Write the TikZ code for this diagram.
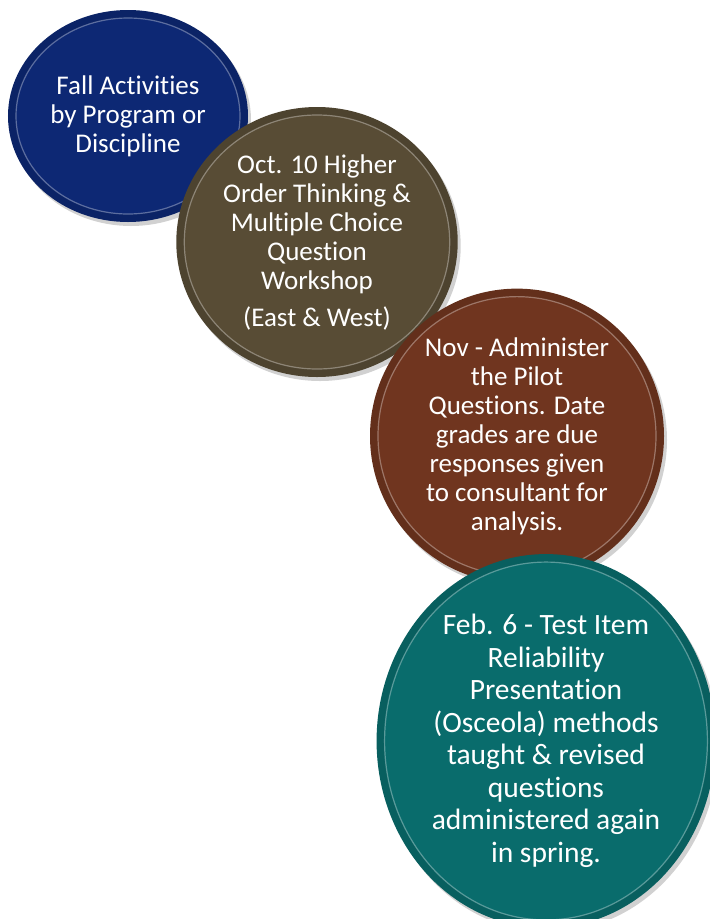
\documentclass[tikz,border=0pt]{standalone}
\usepackage{fontspec}
\setmainfont{Carlito}[Ligatures=NoCommon]
\usetikzlibrary{shapes.geometric}

\definecolor{fallblue}{RGB}{13,40,116}
\definecolor{octolive}{RGB}{88,76,53}
\definecolor{novrust}{RGB}{112,53,31}
\definecolor{febteal}{RGB}{9,108,108}

\tikzset{
  % glossy button: dark outer band, light rim, soft shadow
  button/.style={ellipse, inner sep=0pt, align=center, text=white,
    fill=#1, draw=#1!45!white, draw opacity=.6, line width=1.2pt,
    preaction={draw=black, draw opacity=.18, line width=16pt,
      transform canvas={xshift=3pt, yshift=-4pt}},
    preaction={draw=#1!88!black, draw opacity=1, line width=16pt}},
  small text/.style={font=\fontsize{27}{29}\selectfont},
  large text/.style={font=\fontsize{29.5}{32.5}\selectfont}
}

\begin{document}
\begin{tikzpicture}[x=1pt, y=-1pt]
  \useasboundingbox (0,0) rectangle (710,919);

  \node[button=fallblue, small text, minimum width=224pt, minimum height=196pt]
    (fall) at (128,116) {Fall Activities\\by Program or\\Discipline};

  \node[button=octolive, small text, minimum width=254pt, minimum height=254pt]
    (oct) at (317,242) {Oct. 10 Higher\\Order Thinking \&\\Multiple Choice\\Question\\Workshop\\[8pt](East \& West)};

  \node[button=novrust, small text, minimum width=278pt, minimum height=268pt]
    (nov) at (517,436) {Nov - Administer\\the Pilot\\Questions. Date\\grades are due\\responses given\\to consultant for\\analysis.};

  \node[button=febteal, large text, minimum width=312pt, minimum height=322pt]
    (feb) at (546,741) {Feb. 6 - Test Item\\Reliability\\Presentation\\(Osceola) methods\\taught \& revised\\questions\\administered again\\in spring.};
\end{tikzpicture}
\end{document}
